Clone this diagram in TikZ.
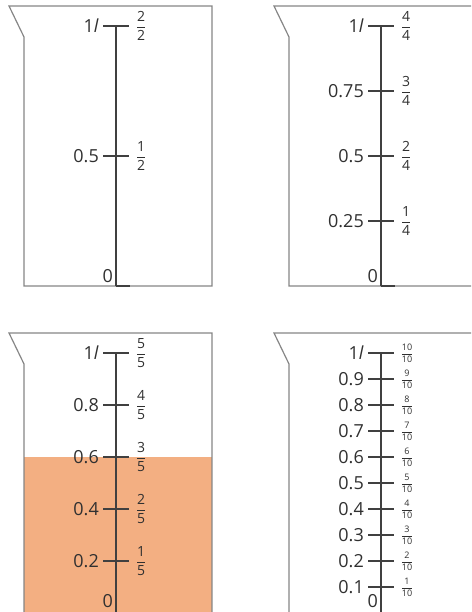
\documentclass[tikz,border=0pt]{standalone}
\usepackage{amsmath}
\usepackage{fontspec}
\setmainfont{Open Sans}
\definecolor{glass}{HTML}{858585}
\definecolor{scaleink}{HTML}{404040}
\definecolor{labelink}{HTML}{303030}
\definecolor{juice}{HTML}{F3AF82}
\tikzset{
  beakerline/.style={draw=glass, line width=1.2pt, line join=miter},
  axisline/.style={draw=scaleink, line width=1.8pt},
  tickline/.style={draw=scaleink, line width=1.5pt},
  litre/.style={
    anchor=east, inner sep=0pt, text=labelink,
    font=\fontsize{18}{21}\selectfont
  },
  part/.style={
    inner sep=0pt, text=labelink,
    font=\fontsize{#1}{16}\selectfont
  },
  part/.default=14,
}
\newcommand\fr[2]{$\dfrac{\text{#1}}{\text{#2}}$}
\newcommand\glassoutline{%
  \draw[beakerline] (-92,0) -- (96,0) -- (96,280) -- (-107,280) -- (-92,249) -- cycle;}

\begin{document}
\begin{tikzpicture}[x=1pt, y=1pt]
\useasboundingbox (0,0) rectangle (471,612);
\clip (0,0) rectangle (471,612);
% halves
\begin{scope}[shift={(116,326)}]
  \glassoutline
  \draw[axisline] (0,0) -- (0,260);
  \draw[tickline] (0,0) -- (14,0);
  \node[litre, anchor=south east] (zero1) at (-3,3) {0};
  \foreach \lab [count=\k] in {0.5,1\textit{l}} {
    \draw[tickline] (-13,\k*130) -- (13,\k*130);
    \node[litre] (dec1\k) at (-17,\k*130) {\lab};
    \node[part] (frac1\k) at (25,\k*130) {\fr{\k}{2}};
  }
\end{scope}
% quarters
\begin{scope}[shift={(381,326)}]
  \glassoutline
  \draw[axisline] (0,0) -- (0,260);
  \draw[tickline] (0,0) -- (14,0);
  \node[litre, anchor=south east] (zero2) at (-3,3) {0};
  \foreach \lab [count=\k] in {0.25,0.5,0.75,1\textit{l}} {
    \draw[tickline] (-13,\k*65) -- (13,\k*65);
    \node[litre] (dec2\k) at (-17,\k*65) {\lab};
    \node[part] (frac2\k) at (25,\k*65) {\fr{\k}{4}};
  }
\end{scope}
% fifths, filled to 0.6
\begin{scope}[shift={(116,-1)}]
  \fill[juice] (-92,-10) rectangle (96,156);
  \glassoutline
  \draw[axisline] (0,0) -- (0,260);
  \draw[tickline] (0,0) -- (14,0);
  \node[litre, anchor=south east] (zero3) at (-3,5) {0};
  \foreach \lab [count=\k] in {0.2,0.4,0.6,0.8,1\textit{l}} {
    \draw[tickline] (-13,\k*52) -- (13,\k*52);
    \node[litre] (dec3\k) at (-17,\k*52) {\lab};
    \node[part] (frac3\k) at (25,\k*52) {\fr{\k}{5}};
  }
\end{scope}
% tenths
\begin{scope}[shift={(381,-1)}]
  \glassoutline
  \draw[axisline] (0,0) -- (0,260);
  \draw[tickline] (0,0) -- (14,0);
  \node[litre, anchor=south east] (zero4) at (-3,5) {0};
  \foreach \lab [count=\k] in {0.1,0.2,0.3,0.4,0.5,0.6,0.7,0.8,0.9,1\textit{l}} {
    \draw[tickline] (-13,\k*26) -- (13,\k*26);
    \node[litre] (dec4\k) at (-17,\k*26) {\lab};
    \node[part=9] (frac4\k) at (26,\k*26) {\fr{\k}{10}};
  }
\end{scope}
\end{tikzpicture}
\end{document}
